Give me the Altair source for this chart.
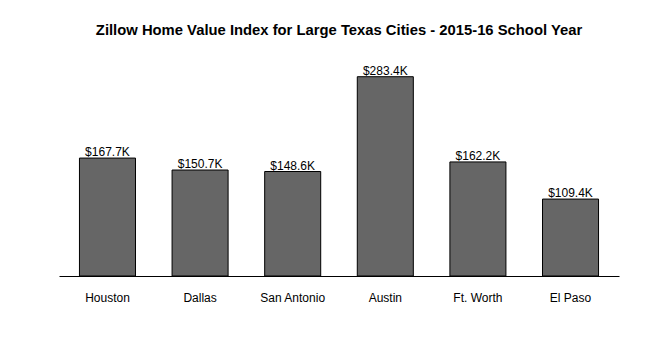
import altair as alt
import pandas as pd

cities = ["Houston", "Dallas", "San Antonio", "Austin", "Ft. Worth", "El Paso"]
values = [167.7, 150.7, 148.6, 283.4, 162.2, 109.4]
labels = ["$167.7K", "$150.7K", "$148.6K", "$283.4K", "$162.2K", "$109.4K"]

df = pd.DataFrame({"city": cities, "value": values, "label": labels})

x = alt.X("city:N", sort=cities, title=None,
          scale=alt.Scale(paddingInner=0.395, paddingOuter=0.221),
          axis=alt.Axis(labelAngle=0, ticks=False, domainColor="black",
                        domainWidth=1, labelPadding=16, labelFontSize=12,
                        labelFont="Liberation Sans", labelColor="black"))
y = alt.Y("value:Q", scale=alt.Scale(domain=[0, 310], nice=False, zero=True),
          axis=None)

bars = alt.Chart(df).mark_bar(color="#666666", stroke="black", strokeWidth=1).encode(x=x, y=y)
text = alt.Chart(df).mark_text(baseline="bottom", dy=1, fontSize=12,
                               font="Liberation Sans", color="black").encode(
    x=x, y=y, text="label:N")

chart = (bars + text).properties(
    width=560, height=218,
    background="white",
    title=alt.TitleParams("Zillow Home Value Index for Large Texas Cities - 2015-16 School Year",
                          font="Liberation Sans", fontSize=14.8, fontWeight="bold",
                          color="black", offset=20, anchor="middle"),
    autosize=alt.AutoSizeParams(type="none"),
    padding={"left": 59, "top": 58, "right": 31, "bottom": 74},
).configure_view(strokeWidth=0, stroke="transparent")

chart.save("out.html", embed_options={"renderer": "svg", "actions": False})
